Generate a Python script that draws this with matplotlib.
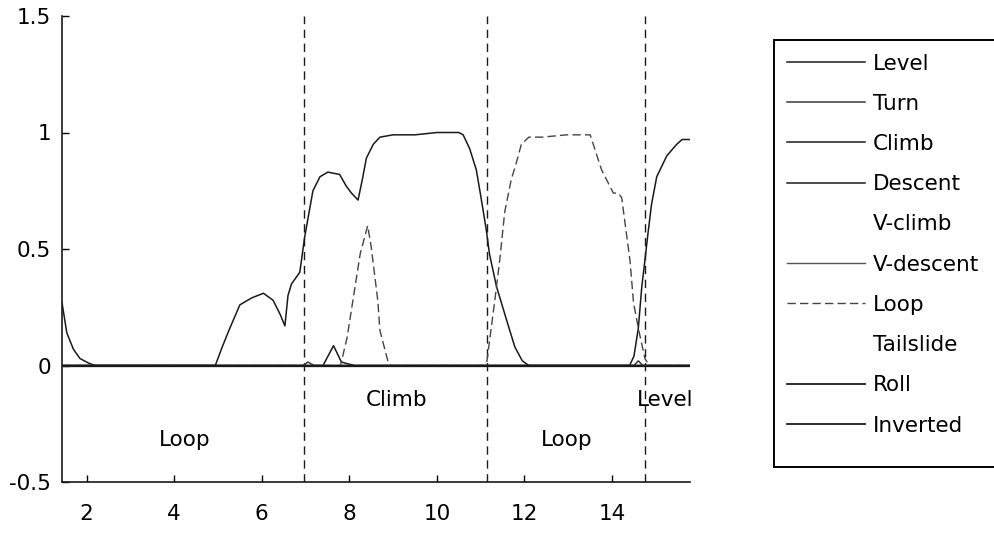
import matplotlib
matplotlib.use("Agg")
import matplotlib.pyplot as plt
from matplotlib.ticker import FixedLocator, FixedFormatter
from matplotlib.patches import Rectangle

plt.rcParams['font.family'] = ['DejaVu Sans']

# ---------------- data ----------------
x_start, x_end = 1.44, 15.78

level_x = [1.44, 1.55, 1.7, 1.85, 2.05, 2.2, 14.4, 14.5, 14.6, 14.68, 14.75, 14.81,
           14.9, 15.02, 15.25, 15.48, 15.6, 15.78]
level_y = [0.27, 0.14, 0.07, 0.03, 0.01, 0.0, 0.0, 0.04, 0.16, 0.34, 0.45, 0.55,
           0.69, 0.81, 0.90, 0.95, 0.97, 0.97]

climb_x = [1.44, 4.94, 5.1, 5.25, 5.5, 5.77, 6.04, 6.26, 6.42, 6.53, 6.6, 6.68, 6.87,
           6.98, 7.17, 7.33, 7.51, 7.78, 7.93, 8.05, 8.2, 8.3, 8.39, 8.55, 8.7, 9.0,
           9.5, 10.0, 10.5, 10.6, 10.75, 10.9, 11.0, 11.13, 11.2, 11.36, 11.6, 11.78,
           11.95, 12.1, 15.78]
climb_y = [0.0, 0.0, 0.08, 0.15, 0.26, 0.29, 0.31, 0.28, 0.22, 0.17, 0.30, 0.35, 0.40,
           0.55, 0.75, 0.81, 0.83, 0.82, 0.77, 0.74, 0.71, 0.80, 0.89, 0.95, 0.98, 0.99,
           0.99, 1.0, 1.0, 0.99, 0.93, 0.84, 0.73, 0.58, 0.48, 0.34, 0.19, 0.08,
           0.02, 0.0, 0.0]

descent_x = [1.44, 7.4, 7.64, 7.82, 7.95, 8.12, 15.78]
descent_y = [0.0, 0.0, 0.085, 0.015, 0.008, 0.0, 0.0]

turn_x = [1.44, 6.95, 7.05, 7.2, 14.5, 14.6, 14.7, 15.78]
turn_y = [0.0, 0.0, 0.015, 0.0, 0.0, 0.02, 0.0, 0.0]

loop_x = [1.44, 7.8, 7.95, 8.1, 8.25, 8.42, 8.5, 8.65, 8.7, 8.88, 8.95, 11.13, 11.33,
          11.44, 11.55, 11.7, 11.8, 11.93, 12.1, 12.4, 12.96, 13.5, 13.57, 13.76,
          14.03, 14.14, 14.22, 14.41, 14.49, 14.6, 14.75, 14.85, 15.78]
loop_y = [0.0, 0.0, 0.12, 0.3, 0.48, 0.6, 0.51, 0.28, 0.15, 0.02, 0.0, 0.0, 0.29,
          0.46, 0.66, 0.80, 0.86, 0.95, 0.98, 0.98, 0.99, 0.99, 0.95, 0.84,
          0.74, 0.74, 0.72, 0.45, 0.27, 0.16, 0.03, 0.0, 0.0]

zero_x = [x_start, x_end]
zero_y = [0.0, 0.0]

series_names = ['Level', 'Turn', 'Climb', 'Descent', 'V-climb', 'V-descent',
                'Loop', 'Tailslide', 'Roll', 'Inverted']

boundaries = [6.97, 11.14, 14.75]

segment_labels = ['Loop', 'Climb', 'Loop', 'Level']
segment_label_x = [4.25, 9.08, 12.96, 14.56]
segment_label_y = [-0.32, -0.15, -0.32, -0.15]

xticks = [2, 4, 6, 8, 10, 12, 14]
xticklabels = ['2', '4', '6', '8', '10', '12', '14']
yticks = [-0.5, 0, 0.5, 1, 1.5]
yticklabels = ['-0.5', '0', '0.5', '1', '1.5']

# ---------------- figure ----------------
W, H = 995, 554
fig = plt.figure(figsize=(W / 100, H / 100), dpi=100)
ax = fig.add_axes([62 / W, 1 - 482 / H, (690 - 62) / W, (482 - 16) / H])

dark = '#1a1a1a'
data = {
    'Level': (level_x, level_y),
    'Turn': (turn_x, turn_y),
    'Climb': (climb_x, climb_y),
    'Descent': (descent_x, descent_y),
    'V-climb': (zero_x, zero_y),
    'V-descent': (zero_x, zero_y),
    'Loop': (loop_x, loop_y),
    'Tailslide': (zero_x, zero_y),
    'Roll': (zero_x, zero_y),
    'Inverted': (zero_x, zero_y),
}
styles = {
    'Level': dict(color=dark, lw=1.1, ls='-'),
    'Turn': dict(color='#3a3a3a', lw=1.1, ls='-'),
    'Climb': dict(color=dark, lw=1.1, ls='-'),
    'Descent': dict(color=dark, lw=1.1, ls='-'),
    'V-climb': dict(color='white', lw=1.0, ls='-'),
    'V-descent': dict(color='#555555', lw=1.0, ls='-'),
    'Loop': dict(color='#444444', lw=1.0, ls=(0, (6, 3))),
    'Tailslide': dict(color='white', lw=1.0, ls='-'),
    'Roll': dict(color=dark, lw=1.3, ls='-'),
    'Inverted': dict(color=dark, lw=1.3, ls='-'),
}
zorders = {'V-climb': 1, 'Tailslide': 1}

handles = []
for name in series_names:
    xs, ys = data[name]
    h, = ax.plot(xs, ys, label=name, zorder=zorders.get(name, 3), **styles[name])
    handles.append(h)

for b in boundaries:
    ax.axvline(b, color=dark, lw=1.0, ls=(0, (6, 4)), zorder=2)

for t, tx, ty in zip(segment_labels, segment_label_x, segment_label_y):
    ha = 'left' if (t == 'Level' and tx > 14) else 'center'
    ax.text(tx, ty, t, fontsize=15.5, ha=ha, va='center', color='black', clip_on=False)

ax.set_xlim(x_start, x_end)
ax.set_ylim(-0.5, 1.5)
ax.xaxis.set_major_locator(FixedLocator(xticks))
ax.xaxis.set_major_formatter(FixedFormatter(xticklabels))
ax.yaxis.set_major_locator(FixedLocator(yticks))
ax.yaxis.set_major_formatter(FixedFormatter(yticklabels))
ax.tick_params(direction='in', length=5, width=1, labelsize=15.5, colors='black')
ax.tick_params(axis='x', pad=16)
ax.tick_params(axis='y', pad=8)
for s in ['top', 'right']:
    ax.spines[s].set_visible(False)
for s in ['left', 'bottom']:
    ax.spines[s].set_linewidth(1.2)
    ax.spines[s].set_color(dark)

# legend frame (drawn separately, Matlab-like box)
frame = Rectangle((774 / W, 1 - 467 / H), (1005 - 774) / W, (467 - 40) / H,
                  transform=fig.transFigure, facecolor='white', edgecolor='black',
                  lw=1.4, zorder=1)
fig.add_artist(frame)

leg_fs = 15.5
leg = fig.legend(handles=handles, loc='upper left',
                 bbox_to_anchor=(787 / W, 1 - 53.5 / H), bbox_transform=fig.transFigure,
                 fontsize=leg_fs, frameon=False,
                 handlelength=3.63, handletextpad=0.37, labelspacing=0.94,
                 borderpad=0.0, borderaxespad=0.0)
leg.set_zorder(5)

fig.savefig('out.png', dpi=100)
